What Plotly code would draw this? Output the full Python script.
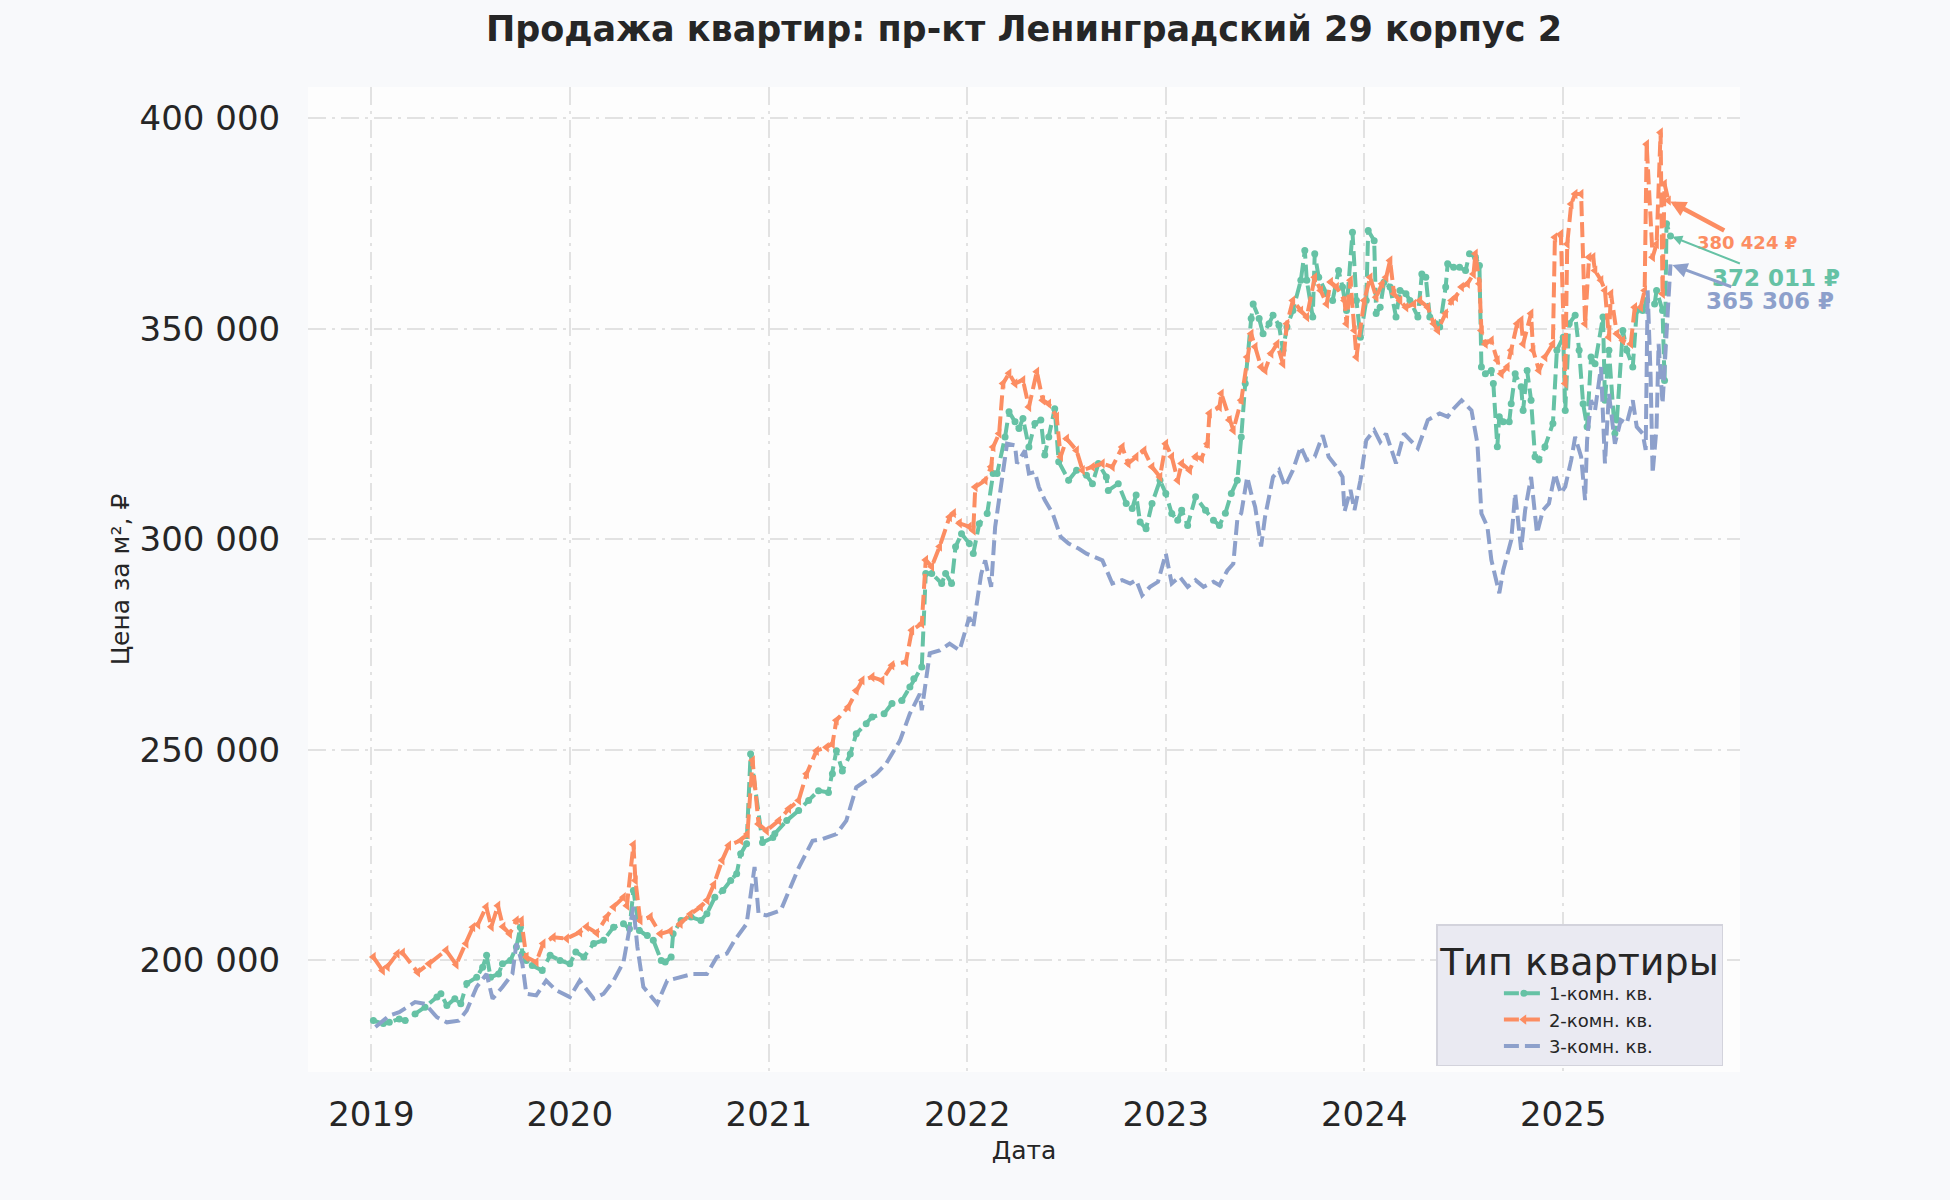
import plotly.graph_objects as go
from datetime import datetime, timedelta

# ---------------- data (decimal years, price per m2 in rubles) ----------------
t_1k = [2019.01, 2019.06, 2019.09, 2019.14, 2019.17, 2019.22, 2019.27, 2019.33, 2019.35, 2019.38,
        2019.42, 2019.45, 2019.48, 2019.53, 2019.56, 2019.58, 2019.60, 2019.64, 2019.66, 2019.70,
        2019.73, 2019.75, 2019.76, 2019.78, 2019.81, 2019.86, 2019.90, 2019.95, 2020.00, 2020.03,
        2020.07, 2020.12, 2020.17, 2020.22, 2020.27, 2020.30, 2020.32, 2020.35, 2020.39, 2020.42,
        2020.46, 2020.48, 2020.51, 2020.52, 2020.56, 2020.61, 2020.66, 2020.69, 2020.73, 2020.77,
        2020.81, 2020.84, 2020.86, 2020.89, 2020.91, 2020.97, 2021.02, 2021.03, 2021.09, 2021.15,
        2021.20, 2021.25, 2021.30, 2021.32, 2021.34, 2021.37, 2021.41, 2021.44, 2021.49, 2021.52,
        2021.58, 2021.62, 2021.67, 2021.71, 2021.73, 2021.77, 2021.79, 2021.82, 2021.87, 2021.89,
        2021.92, 2021.94, 2021.97, 2022.01, 2022.03, 2022.06, 2022.10, 2022.13, 2022.15, 2022.19,
        2022.21, 2022.24, 2022.26, 2022.28, 2022.31, 2022.34, 2022.37, 2022.39, 2022.41, 2022.44,
        2022.46, 2022.51, 2022.55, 2022.60, 2022.63, 2022.66, 2022.70, 2022.71, 2022.76, 2022.80,
        2022.83, 2022.85, 2022.87, 2022.90, 2022.93, 2022.97, 2023.00, 2023.03, 2023.06, 2023.08,
        2023.11, 2023.15, 2023.20, 2023.24, 2023.27, 2023.30, 2023.33, 2023.36, 2023.38, 2023.40,
        2023.43, 2023.44, 2023.47, 2023.49, 2023.52, 2023.54, 2023.57, 2023.59, 2023.61, 2023.64,
        2023.68, 2023.70, 2023.71, 2023.74, 2023.75, 2023.77, 2023.81, 2023.84, 2023.87, 2023.89,
        2023.91, 2023.94, 2023.96, 2023.98, 2024.01, 2024.02, 2024.05, 2024.06, 2024.08, 2024.10,
        2024.13, 2024.16, 2024.18, 2024.21, 2024.23, 2024.27, 2024.29, 2024.31, 2024.33, 2024.36,
        2024.38, 2024.41, 2024.42, 2024.45, 2024.48, 2024.51, 2024.53, 2024.56, 2024.58, 2024.59,
        2024.61, 2024.64, 2024.65, 2024.67, 2024.68, 2024.70, 2024.73, 2024.74, 2024.76, 2024.79,
        2024.80, 2024.82, 2024.84, 2024.86, 2024.88, 2024.91, 2024.95, 2024.97, 2025.00, 2025.01,
        2025.03, 2025.06, 2025.08, 2025.10, 2025.12, 2025.14, 2025.16, 2025.20, 2025.21, 2025.23,
        2025.26, 2025.27, 2025.30, 2025.32, 2025.35, 2025.37, 2025.40, 2025.42, 2025.46, 2025.47,
        2025.50, 2025.51, 2025.52, 2025.54]
v_1k = [185700, 185000, 185300, 186100, 185700, 187300, 188900, 191300, 192100, 189300,
        190900, 189700, 194500, 196000, 198400, 201200, 196000, 196800, 199200, 200000,
        203200, 207900, 201600, 200000, 198800, 197600, 201200, 200000, 199200, 202000,
        200800, 204000, 204800, 207900, 208700, 207500, 216600, 207100, 205900, 204800,
        200000, 199600, 200800, 206300, 209500, 210300, 209500, 211100, 215000, 216600,
        219000, 220600, 225300, 227700, 249000, 228000, 229200, 230100, 233200, 235600,
        238000, 240300, 239900, 244300, 249800, 245000, 249000, 253800, 256200, 257800,
        258600, 261000, 261700, 264900, 266900, 269700, 291900, 291900, 289500, 291900,
        289500, 298200, 301300, 299000, 296600, 303700, 306100, 315600, 315600, 324300,
        330300, 327900, 326300, 328700, 321900, 327500, 328300, 320000, 324300, 331000,
        318400, 314000, 316400, 315200, 313200, 318000, 314800, 311600, 313200, 308500,
        307300, 310500, 304100, 302500, 308500, 314000, 310900, 306100, 304500, 306900,
        303300, 310100, 306900, 304500, 303300, 306200, 310900, 314000, 324300, 337000,
        352400, 355900, 352400, 348800, 351200, 353200, 350800, 344900, 350400, 354300,
        361500, 368600, 361500, 352800, 367800, 362200, 358300, 356700, 363800, 359900,
        354300, 372900, 356700, 348000, 356700, 373300, 370900, 353600, 355100, 361100,
        359900, 352800, 359100, 358300, 356700, 352800, 363000, 362200, 352800, 351200,
        350400, 359900, 365400, 364600, 364600, 363800, 367800, 367000, 365000, 340900,
        339300, 340100, 337000, 322000, 329100, 327900, 327900, 332200, 339300, 336200,
        330600, 340100, 333000, 319600, 318800, 322000, 327500, 344900, 348000, 330600,
        351200, 353200, 344900, 332200, 326700, 343300, 341700, 352800, 333000, 344900,
        325100, 328300, 349600, 344900, 340900, 354300, 354300, 356700, 355900, 359100,
        354300, 337700, 374900, 372011]

t_2k = [2019.01, 2019.056, 2019.08, 2019.13, 2019.157, 2019.233, 2019.29, 2019.376, 2019.427, 2019.477,
        2019.511, 2019.536, 2019.578, 2019.604, 2019.637, 2019.663, 2019.696, 2019.73, 2019.755, 2019.78,
        2019.83, 2019.865, 2019.916, 2019.983, 2020.05, 2020.084, 2020.135, 2020.185, 2020.22, 2020.27,
        2020.287, 2020.32, 2020.33, 2020.354, 2020.405, 2020.455, 2020.506, 2020.556, 2020.607, 2020.658,
        2020.691, 2020.725, 2020.767, 2020.80, 2020.86, 2020.894, 2020.92, 2020.95, 2020.99, 2021.05,
        2021.10, 2021.15, 2021.19, 2021.24, 2021.29, 2021.32, 2021.34, 2021.40, 2021.44, 2021.47,
        2021.52, 2021.57, 2021.62, 2021.69, 2021.72, 2021.77, 2021.79, 2021.82, 2021.86, 2021.91,
        2021.93, 2021.96, 2022.01, 2022.03, 2022.04, 2022.09, 2022.12, 2022.13, 2022.16, 2022.18,
        2022.21, 2022.24, 2022.28, 2022.31, 2022.35, 2022.38, 2022.41, 2022.45, 2022.47, 2022.50,
        2022.55, 2022.58, 2022.63, 2022.68, 2022.73, 2022.78, 2022.81, 2022.85, 2022.89, 2022.93,
        2022.97, 2023.00, 2023.03, 2023.06, 2023.08, 2023.12, 2023.15, 2023.18, 2023.21, 2023.22,
        2023.27, 2023.28, 2023.32, 2023.34, 2023.38, 2023.41, 2023.43, 2023.45, 2023.48, 2023.50,
        2023.53, 2023.56, 2023.59, 2023.61, 2023.64, 2023.68, 2023.71, 2023.75, 2023.78, 2023.81,
        2023.83, 2023.86, 2023.90, 2023.91, 2023.93, 2023.95, 2023.96, 2024.00, 2024.03, 2024.06,
        2024.09, 2024.11, 2024.13, 2024.15, 2024.18, 2024.21, 2024.25, 2024.28, 2024.32, 2024.35,
        2024.37, 2024.41, 2024.44, 2024.46, 2024.49, 2024.52, 2024.55, 2024.56, 2024.58, 2024.59,
        2024.61, 2024.64, 2024.67, 2024.69, 2024.72, 2024.74, 2024.77, 2024.79, 2024.80, 2024.84,
        2024.85, 2024.88, 2024.91, 2024.95, 2024.96, 2024.99, 2025.01, 2025.02, 2025.04, 2025.06,
        2025.09, 2025.11, 2025.13, 2025.15, 2025.16, 2025.19, 2025.21, 2025.23, 2025.24, 2025.27,
        2025.30, 2025.34, 2025.36, 2025.39, 2025.41, 2025.42, 2025.45, 2025.47, 2025.49, 2025.50,
        2025.51, 2025.53]
v_2k = [200800, 197600, 198500, 201600, 201800, 197200, 199200, 202400, 199000, 204000,
        207900, 208500, 212700, 208000, 213000, 208000, 206300, 209500, 209500, 200800,
        199600, 204000, 205500, 205200, 206700, 208000, 206500, 210300, 212700, 215000,
        213000, 227500, 219000, 209500, 210300, 206300, 207000, 208700, 211000, 212700,
        214300, 218000, 223800, 227300, 228500, 230000, 247500, 232400, 230800, 233200,
        236000, 238000, 244300, 249800, 250600, 251400, 257000, 260200, 264100, 266500,
        267300, 266500, 270100, 270900, 278400, 280000, 295100, 293500, 298300, 305300,
        306200, 303800, 303000, 302100, 312400, 314000, 317200, 321900, 325100, 337000,
        339400, 337000, 337800, 331400, 339800, 333000, 332200, 329100, 319600, 323900,
        321100, 316400, 317200, 318000, 317200, 321900, 318000, 319600, 321100, 317200,
        314800, 322700, 319600, 314000, 318000, 316400, 319600, 319200, 322700, 329900,
        331400, 334600, 328300, 325900, 333000, 343300, 348800, 345700, 340900, 340100,
        344100, 346400, 341700, 351200, 356700, 354300, 352800, 362200, 359100, 355900,
        361100, 359900, 356700, 351200, 361500, 349600, 343300, 356700, 362200, 357500,
        360700, 362200, 366200, 358300, 356700, 355100, 355900, 356700, 355100, 351200,
        349600, 353600, 356700, 357500, 359900, 360700, 363000, 367800, 360700, 349600,
        346400, 347200, 342500, 339300, 340900, 344900, 351200, 352000, 346400, 353600,
        344900, 340100, 343300, 346400, 371700, 372500, 337000, 370100, 379600, 382000,
        382000, 351200, 367000, 367000, 363800, 361500, 359100, 348000, 358300, 348800,
        347200, 346400, 355100, 355100, 359100, 393800, 367000, 370100, 396600, 358300,
        384400, 380424]

t_3k = [2019.02, 2019.09, 2019.14, 2019.22, 2019.27, 2019.33, 2019.38, 2019.44, 2019.48, 2019.53,
        2019.58, 2019.61, 2019.66, 2019.71, 2019.73, 2019.76, 2019.78, 2019.83, 2019.88, 2019.93,
        2020.00, 2020.05, 2020.12, 2020.17, 2020.22, 2020.27, 2020.32, 2020.34, 2020.37, 2020.44,
        2020.49, 2020.56, 2020.62, 2020.69, 2020.74, 2020.79, 2020.83, 2020.89, 2020.93, 2020.95,
        2020.99, 2021.06, 2021.10, 2021.15, 2021.22, 2021.27, 2021.34, 2021.39, 2021.44, 2021.49,
        2021.54, 2021.59, 2021.66, 2021.71, 2021.76, 2021.77, 2021.81, 2021.86, 2021.91, 2021.96,
        2022.01, 2022.03, 2022.07, 2022.09, 2022.12, 2022.14, 2022.18, 2022.20, 2022.24, 2022.25,
        2022.29, 2022.31, 2022.34, 2022.36, 2022.39, 2022.43, 2022.47, 2022.51, 2022.56, 2022.60,
        2022.64, 2022.68, 2022.73, 2022.78, 2022.82, 2022.85, 2022.88, 2022.92, 2022.96, 2023.00,
        2023.03, 2023.07, 2023.11, 2023.15, 2023.19, 2023.24, 2023.27, 2023.31, 2023.34, 2023.36,
        2023.38, 2023.41, 2023.43, 2023.45, 2023.48, 2023.50, 2023.54, 2023.57, 2023.60, 2023.64,
        2023.68, 2023.71, 2023.75, 2023.79, 2023.82, 2023.86, 2023.89, 2023.90, 2023.93, 2023.95,
        2023.98, 2024.01, 2024.05, 2024.08, 2024.11, 2024.14, 2024.16, 2024.20, 2024.23, 2024.27,
        2024.32, 2024.35, 2024.38, 2024.42, 2024.45, 2024.49, 2024.54, 2024.57, 2024.59, 2024.62,
        2024.64, 2024.68, 2024.70, 2024.74, 2024.76, 2024.79, 2024.81, 2024.84, 2024.87, 2024.90,
        2024.93, 2024.96, 2024.99, 2025.01, 2025.04, 2025.06, 2025.09, 2025.11, 2025.12, 2025.14,
        2025.16, 2025.19, 2025.21, 2025.23, 2025.26, 2025.29, 2025.32, 2025.35, 2025.37, 2025.40,
        2025.415, 2025.425, 2025.44, 2025.45, 2025.47, 2025.48, 2025.50, 2025.54]
v_3k = [184200, 186900, 187700, 190100, 189700, 186500, 185300, 185700, 188100, 193700,
        196800, 190900, 193700, 196800, 204000, 199200, 192100, 191700, 195200, 192900,
        191300, 195200, 190900, 192100, 195200, 199600, 212700, 203200, 193700, 189700,
        195200, 196000, 196800, 196800, 200800, 201600, 204800, 208700, 222200, 211100,
        210700, 211900, 216600, 222000, 228400, 228800, 230000, 233200, 241100, 242700,
        244300, 246700, 252200, 258600, 263300, 259400, 272900, 273600, 275200, 273600,
        281500, 279200, 291800, 295000, 288700, 302900, 317200, 322700, 322300, 318000,
        321100, 315600, 316000, 312400, 309300, 306100, 300600, 299000, 297800, 296600,
        295800, 295000, 289500, 290300, 289500, 290300, 286700, 288700, 289900, 296600,
        289500, 291100, 288700, 290300, 288700, 289900, 289100, 292600, 294200, 304600,
        306200, 314800, 310900, 307700, 298300, 305400, 314800, 316400, 312500, 316400,
        322000, 318800, 319600, 324700, 319600, 317200, 314800, 306600, 311700, 306900,
        314000, 323500, 325900, 323100, 325100, 320400, 318000, 325100, 323500, 321600,
        328300, 329100, 329900, 329100, 331000, 333000, 330600, 322700, 306100, 303000,
        295100, 287200, 292700, 299800, 310900, 297500, 306900, 314800, 301400, 306900,
        308500, 315600, 310900, 312500, 318800, 324300, 319600, 309300, 323500, 333000,
        330600, 340900, 318000, 334600, 322700, 328300, 327500, 333000, 326700, 325100,
        321200, 359100, 338500, 315600, 326700, 346400, 332200, 365306]

series_names = ["1-комн. кв.", "2-комн. кв.", "3-комн. кв."]
series_colors = ["#66c2a5", "#fc8d62", "#8da0cb"]
y_ticks = [200000, 250000, 300000, 350000, 400000]
y_tick_text = ["200 000", "250 000", "300 000", "350 000", "400 000"]
x_years = [2019, 2020, 2021, 2022, 2023, 2024, 2025]
x_range = [2018.68, 2025.89]
y_range = [173500, 407400]
title_text = "Продажа квартир: пр-кт Ленинградский 29 корпус 2"


def to_date(f):
    y = int(f)
    return datetime(y, 1, 1) + timedelta(days=(f - y) * 365.25)


FONT = "DejaVu Sans"
DASH = "15px,6px"

fig = go.Figure()
specs = [
    (t_1k, v_1k, "lines+markers", dict(symbol="circle", size=7)),
    (t_2k, v_2k, "lines+markers", dict(symbol="triangle-left", size=9)),
    (t_3k, v_3k, "lines", None),
]
for (t, v, mode, mk), name, col in zip(specs, series_names, series_colors):
    kw = dict(x=[to_date(f) for f in t], y=v, mode=mode, name=name,
              line=dict(color=col, width=4, dash=DASH))
    if mk:
        mk = dict(mk, color=col, line=dict(width=0))
        kw["marker"] = mk
    fig.add_trace(go.Scatter(**kw))

# end-value annotations
ann_specs = [
    (t_2k, v_2k, series_colors[1], 18, 78, 42, 4.5, 0.7),
    (t_1k, v_1k, series_colors[0], 23, 106, 42, 2, 1),
    (t_3k, v_3k, series_colors[2], 23, 100, 37, 3, 1),
]
for t, v, col, fs, ax, ay, aw, asz in ann_specs:
    val = v[-1]
    fig.add_annotation(
        x=to_date(t[-1]), y=val, xref="x", yref="y",
        text=f"<b>{val:,}".replace(",", " ") + " ₽</b>",
        showarrow=True, ax=ax, ay=ay, axref="pixel", ayref="pixel",
        arrowhead=2, arrowsize=asz, arrowwidth=aw, arrowcolor=col,
        font=dict(family=FONT, size=fs, color=col), standoff=2, startstandoff=0,
    )

fig.update_layout(
    width=1950, height=1200,
    paper_bgcolor="#f8f9fb", plot_bgcolor="#fdfdfd",
    margin=dict(l=308, r=210, t=87, b=128, autoexpand=False),
    font=dict(family=FONT, color="#262626"),
    title=dict(text=f"<b>{title_text}</b>", x=(308 + 1740) / 2 / 1950, xanchor="center",
               y=1 - 29 / 1200, yanchor="middle", yref="container",
               font=dict(family=FONT, size=35, color="#262626")),
    showlegend=True,
    legend=dict(
        x=0.788, y=0.006, xanchor="left", yanchor="bottom",
        bgcolor="#eaeaf2", bordercolor="#d3d3dc", borderwidth=1.5,
        font=dict(family=FONT, size=18, color="#262626"),
        title=dict(text="Тип квартиры", side="top center",
                   font=dict(family=FONT, size=38, color="#262626")),
        itemwidth=40, indentation=61, tracegroupgap=2,
    ),
)

fig.update_xaxes(
    range=[to_date(x_range[0]), to_date(x_range[1])],
    tickvals=[datetime(y, 1, 1) for y in x_years], ticktext=[str(y) for y in x_years],
    tickfont=dict(family=FONT, size=34, color="#262626"),
    ticks="outside", ticklen=12, tickcolor="rgba(0,0,0,0)",
    showgrid=True, gridcolor="#e2e2e2", gridwidth=2, griddash="18px,6px,3px,6px",
    zeroline=False, showline=False,
    title=dict(text="Дата", font=dict(family=FONT, size=25, color="#262626"), standoff=8),
)
fig.update_yaxes(
    range=y_range, tickvals=y_ticks, ticktext=y_tick_text,
    tickfont=dict(family=FONT, size=34, color="#262626"),
    ticks="outside", ticklen=20, tickcolor="rgba(0,0,0,0)",
    showgrid=True, gridcolor="#e2e2e2", gridwidth=2, griddash="18px,6px,3px,6px",
    zeroline=False, showline=False,
    title=dict(text="Цена за м², ₽", font=dict(family=FONT, size=25, color="#262626"), standoff=2),
)

fig.write_html("out.html", config={"displayModeBar": False},
               post_script="document.body.style.margin='0px';")
